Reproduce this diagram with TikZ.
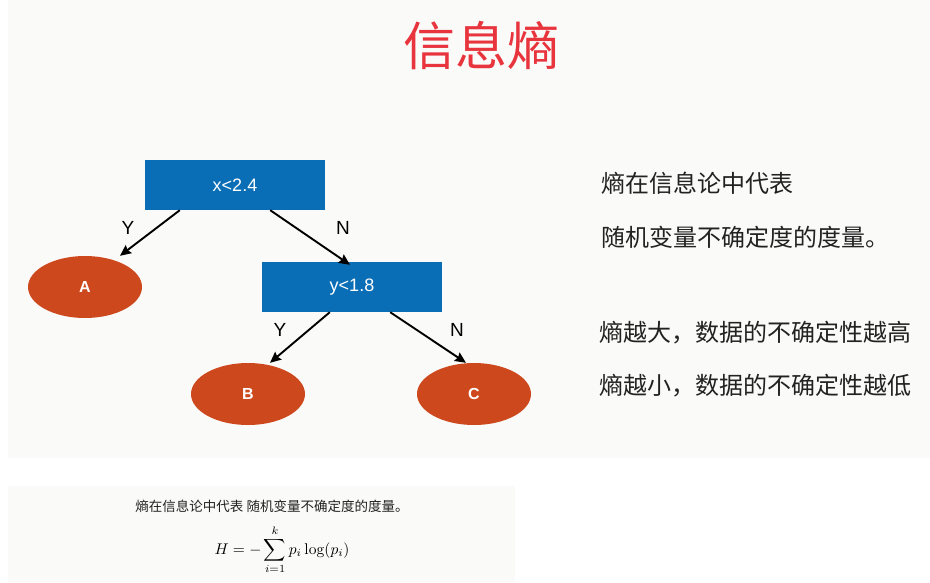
\documentclass[tikz,border=0pt]{standalone}
\usepackage[no-math]{fontspec}
\setmainfont{Liberation Sans}
\newfontfamily\cjk{Noto Sans CJK SC}
\usetikzlibrary{positioning,arrows.meta,shapes.geometric}

\definecolor{panelbg}{RGB}{250,250,249}
\definecolor{splitblue}{RGB}{10,110,182}
\definecolor{leafred}{RGB}{205,72,28}
\definecolor{titlered}{RGB}{232,52,60}
\definecolor{txtgray}{RGB}{34,34,34}

\begin{document}
\begin{tikzpicture}[
    x=1pt, y=-1pt,
    split/.style={draw=none, fill=splitblue, text=white, minimum width=180pt,
                  minimum height=50pt, inner sep=0pt, font=\fontsize{18}{20}\selectfont},
    leaf/.style={ellipse, fill=leafred, text=white, minimum width=114pt,
                 minimum height=62pt, inner sep=0pt, font=\bfseries\fontsize{16}{18}\selectfont},
    ar/.style={-{Stealth[length=11pt,width=10pt,inset=1.5pt]}, line width=1.9pt, black},
    yn/.style={font=\fontsize{19}{20}\selectfont},
    note/.style={anchor=west, text=txtgray, font=\cjk\fontsize{24}{26}\selectfont},
]
\useasboundingbox (0,0) rectangle (930,582);
% --- panels ---
\fill[panelbg] (8,0) rectangle (930,458);
\fill[panelbg] (8,486) rectangle (515,582);
% --- title ---
\node[text=titlered, font=\cjk\fontsize{52}{56}\selectfont] (title) at (481,46) {信息熵};
% --- the tree ---
\node[split] (b1) at (235,185) {x<2.4};
\node[split] (b2) at (352,287) {y<1.8};
\node[leaf] (A) at (85,287) {A};
\node[leaf] (B) at (248,394) {B};
\node[leaf] (C) at (474,394) {C};
\draw[ar] ([xshift=35pt]b1.south west) -- ([xshift=35pt]A.north);
\draw[ar] ([xshift=-55pt]b1.south east) -- ([xshift=-2pt,yshift=-3pt]b2.north);
\draw[ar] ([xshift=68pt]b2.south west) -- ([xshift=22pt]B.north);
\draw[ar] ([xshift=-52pt]b2.south east) -- ([xshift=-8pt]C.north);
\node[yn] (y1) at (128,228) {Y};
\node[yn] (n1) at (343,228) {N};
\node[yn] (y2) at (280,330) {Y};
\node[yn] (n2) at (457,330) {N};
% --- notes on the right ---
\node[note] (l1) at (598,183) {熵在信息论中代表};
\node[note] (l2) at (598,237) {随机变量不确定度的度量。};
\node[note] (l3) at (596,333) {熵越大，数据的不确定性越高};
\node[note] (l4) at (596,386) {熵越小，数据的不确定性越低};
% --- formula panel ---
\node[inner sep=0pt, text=txtgray, font=\cjk\fontsize{13.5}{15}\selectfont] (cap) at (272,506)
  {熵在信息论中代表 随机变量不确定度的度量。};
\node[inner sep=0pt] (eq) at (282,550)
  {\scalebox{1.55}{$\displaystyle H=-\sum_{i=1}^{k}p_i\log(p_i)$}};
\end{tikzpicture}
\end{document}
